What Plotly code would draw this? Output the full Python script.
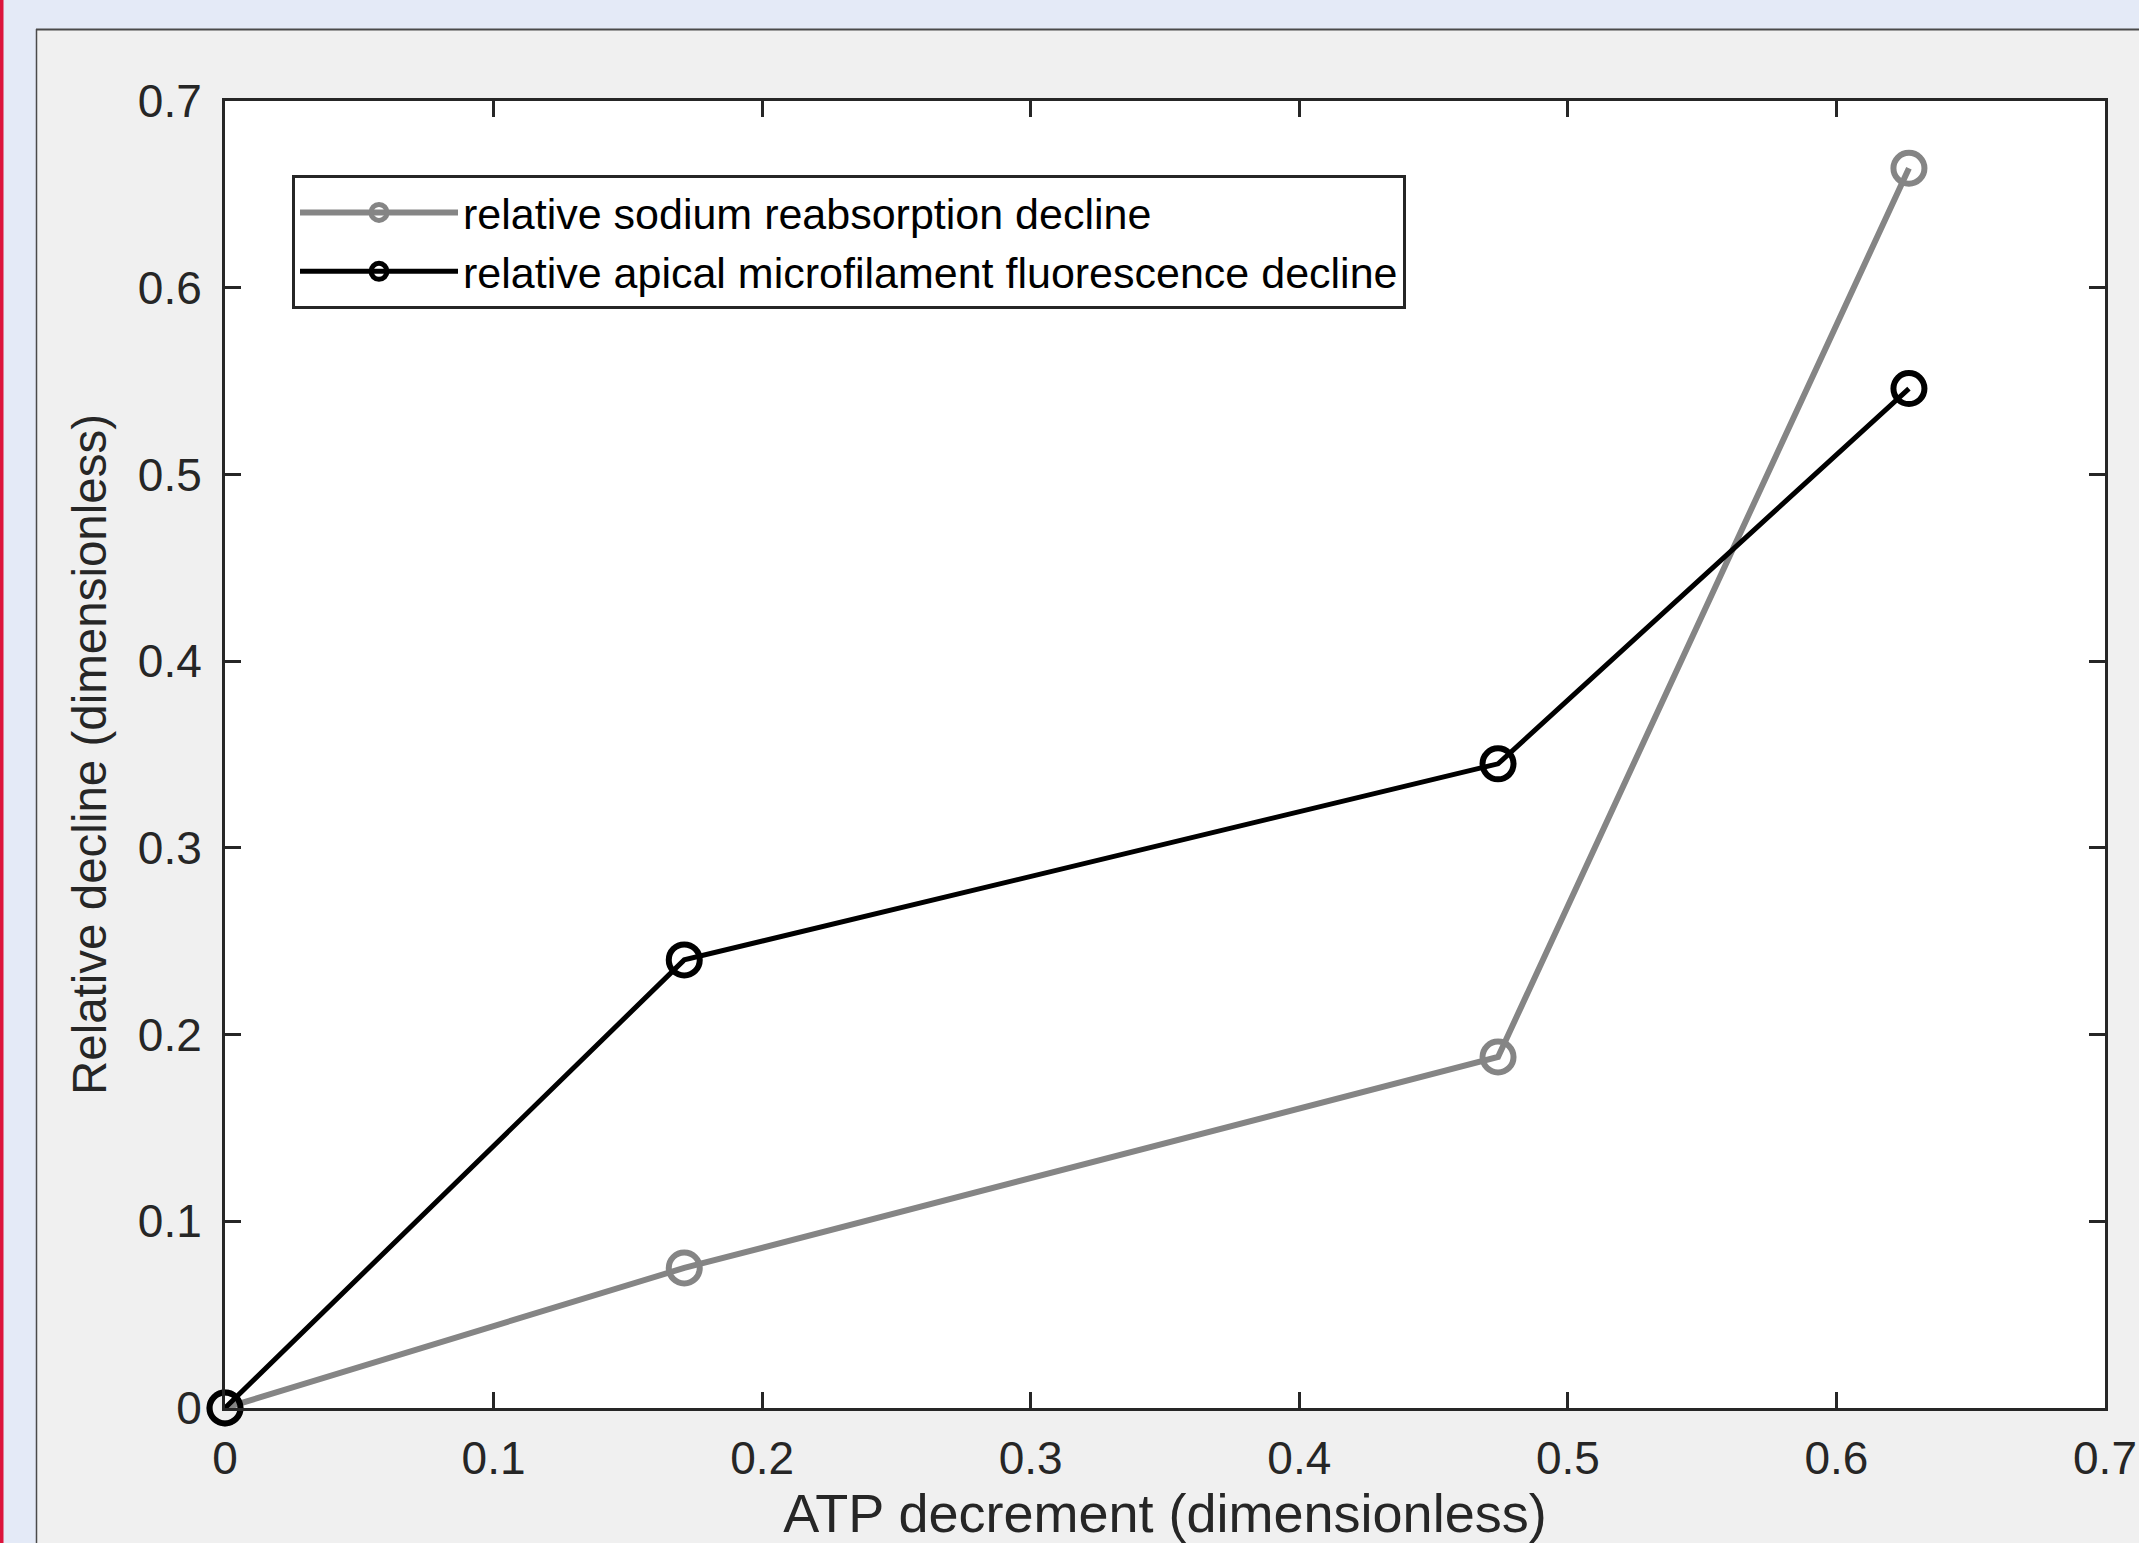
import plotly.graph_objects as go

# ---- data ----
atp_decrement = [0.0, 0.171, 0.474, 0.627]
sodium_decline = [0.0, 0.075, 0.188, 0.664]
microfilament_decline = [0.0, 0.240, 0.345, 0.546]

series_names = [
    "relative sodium reabsorption decline",
    "relative apical microfilament fluorescence decline",
]
x_ticks = [0, 0.1, 0.2, 0.3, 0.4, 0.5, 0.6, 0.7]
y_ticks = [0, 0.1, 0.2, 0.3, 0.4, 0.5, 0.6, 0.7]

# ---- geometry (pixels) ----
W, H = 2139, 1543
L, R, T, B = 225, 2105, 101, 1408


def px2x(px):
    return (px - L) / (R - L)


def py2y(py):
    return (B - py) / (B - T)


FONT = "Liberation Sans, Arial, Helvetica, sans-serif"
AXC = "#262626"

fig = go.Figure()
fig.add_trace(go.Scatter(
    x=atp_decrement, y=sodium_decline, name=series_names[0],
    mode="lines+markers",
    line=dict(color="#858585", width=6),
    marker=dict(symbol="circle-open", size=31, color="#858585", line=dict(width=6, color="#858585")),
    cliponaxis=False,
))
fig.add_trace(go.Scatter(
    x=atp_decrement, y=microfilament_decline, name=series_names[1],
    mode="lines+markers",
    line=dict(color="#000000", width=5),
    marker=dict(symbol="circle-open", size=31, color="#000000", line=dict(width=6, color="#000000")),
    cliponaxis=False,
))

shapes = [
    # blue surround
    dict(type="rect", xref="paper", yref="paper", x0=px2x(0), x1=px2x(W), y0=py2y(0), y1=py2y(29),
         fillcolor="#e4eaf7", line=dict(width=0), layer="below"),
    dict(type="rect", xref="paper", yref="paper", x0=px2x(0), x1=px2x(36), y0=py2y(0), y1=py2y(H),
         fillcolor="#e4eaf7", line=dict(width=0), layer="below"),
    # red strip
    dict(type="rect", xref="paper", yref="paper", x0=px2x(0), x1=px2x(3.5), y0=py2y(0), y1=py2y(H),
         fillcolor="#dc143c", line=dict(width=0), layer="below"),
    # panel borders
    dict(type="line", xref="paper", yref="paper", x0=px2x(36), x1=px2x(W), y0=py2y(29.5), y1=py2y(29.5),
         line=dict(color="#4a4a4a", width=2), layer="below"),
    dict(type="line", xref="paper", yref="paper", x0=px2x(36.5), x1=px2x(36.5), y0=py2y(29), y1=py2y(H),
         line=dict(color="#4a4a4a", width=1.5), layer="below"),
]

axis_common = dict(
    range=[0, 0.7], showgrid=False, zeroline=False,
    showline=True, mirror="ticks", linecolor=AXC, linewidth=3,
    ticks="inside", ticklen=16, tickwidth=3, tickcolor=AXC,
    tickfont=dict(family=FONT, size=46, color=AXC),
)

fig.update_layout(
    width=W, height=H,
    margin=dict(l=L, r=W - R, t=T, b=H - B, autoexpand=False),
    paper_bgcolor="#f0f0f0", plot_bgcolor="#ffffff",
    font=dict(family=FONT, color=AXC),
    shapes=shapes,
    xaxis=dict(
        **axis_common,
        tickvals=x_ticks, ticktext=[f"{v:g}" for v in x_ticks],
        ticklabelstandoff=8,
        title=dict(text="ATP decrement (dimensionless)", font=dict(family=FONT, size=54, color=AXC), standoff=24),
        automargin=False,
    ),
    yaxis=dict(
        **axis_common,
        tickvals=y_ticks, ticktext=[f"{v:g}" for v in y_ticks],
        ticklabelstandoff=11,
        title=dict(text="Relative decline (dimensionless)", font=dict(family=FONT, size=47.5, color=AXC), standoff=17),
        automargin=False,
    ),
    showlegend=True,
    legend=dict(
        x=px2x(292), y=py2y(175), xanchor="left", yanchor="top",
        bgcolor="#ffffff", bordercolor=AXC, borderwidth=3,
        font=dict(family=FONT, size=43, color="#000000"),
        itemwidth=158, tracegroupgap=0,
    ),
)

fig.write_html(
    "out.html",
    config={"displayModeBar": False},
    post_script="document.body.style.margin='0';document.body.style.overflow='hidden';",
)
